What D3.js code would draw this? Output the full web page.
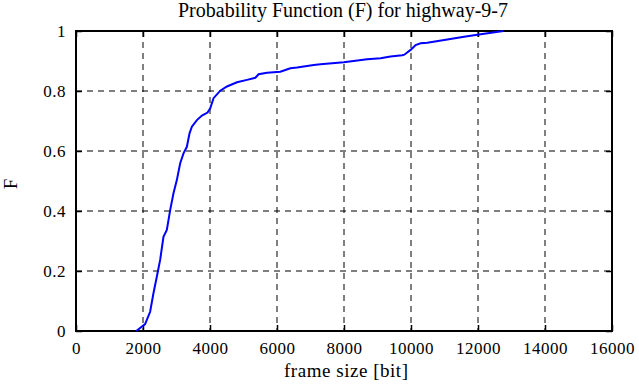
<!DOCTYPE html>
<html><head><meta charset="utf-8">
<script src="https://cdn.jsdelivr.net/npm/d3@7"></script>
<style>body{margin:0;background:#fff}svg{display:block}</style>
</head><body>
<svg id="c" width="639" height="387"></svg>
<script>
const frameSize = [1800,2063,2213,2312,2412,2512,2611,2711,2811,2910,3010,3110,3209,3309,3389,3459,3609,3759,3927,4007,4106,4306,4506,4805,5105,5353,5452,5703,6100,6399,6598,7097,7300,7993,8691,9091,9389,9739,9800,9988,10137,10287,10486,11084,11582,12081,12758];
const probF =     [0,0.023,0.064,0.126,0.181,0.237,0.314,0.337,0.403,0.459,0.503,0.559,0.592,0.614,0.659,0.681,0.703,0.718,0.728,0.742,0.776,0.801,0.815,0.829,0.837,0.844,0.856,0.861,0.864,0.876,0.878,0.887,0.889,0.896,0.906,0.909,0.915,0.919,0.921,0.937,0.953,0.959,0.961,0.972,0.981,0.989,1.0];
const xTicks = [0,2000,4000,6000,8000,10000,12000,14000,16000];
const yTicks = [0,0.2,0.4,0.6,0.8,1];
const title = "Probability Function (F) for highway-9-7";
const xLabel = "frame size [bit]";
const yLabel = "F";

const FONT = '"Liberation Serif","Times New Roman",serif';
const svg = d3.select("#c");
const L=76,R=612,T=31,B=331;
const x = d3.scaleLinear().domain([0,16000]).range([L,R]);
const y = d3.scaleLinear().domain([0,1]).range([B,T]);

// grid
svg.append("g").selectAll("line").data(xTicks.slice(1,-1)).join("line")
  .attr("x1",d=>x(d)).attr("x2",d=>x(d)).attr("y1",T).attr("y2",B)
  .attr("stroke","#000").attr("stroke-width",1).attr("stroke-dasharray","6,5");
svg.append("g").selectAll("line").data(yTicks.slice(1,-1)).join("line")
  .attr("x1",L).attr("x2",R).attr("y1",d=>y(d)).attr("y2",d=>y(d))
  .attr("stroke","#000").attr("stroke-width",1).attr("stroke-dasharray","6,5");

// axes
const xa = svg.append("g").attr("transform",`translate(0,${B})`)
  .call(d3.axisBottom(x).tickValues(xTicks).tickSize(-6).tickFormat(d3.format("d")));
const xt = svg.append("g").attr("transform",`translate(0,${T})`)
  .call(d3.axisTop(x).tickValues(xTicks).tickSize(-6).tickFormat(""));
const ya = svg.append("g").attr("transform",`translate(${L},0)`)
  .call(d3.axisLeft(y).tickValues(yTicks).tickSize(-6).tickFormat(d=>String(d)));
const yr = svg.append("g").attr("transform",`translate(${R},0)`)
  .call(d3.axisRight(y).tickValues(yTicks).tickSize(-6).tickFormat(""));
[xa,xt,ya,yr].forEach(g=>{
  g.select(".domain").remove();
  g.attr("font-family",null).attr("font-size",null);
  g.selectAll(".tick line").attr("stroke","#000").attr("stroke-width",1.5);
  g.selectAll("text").style("font-family",FONT).style("font-size","17px")
   .style("letter-spacing","0.5px").attr("fill","#000");
});
xa.selectAll("text").attr("y",23).attr("dy",null);
ya.selectAll("text").attr("x",-10).attr("dy","0.34em");

svg.append("rect").attr("x",L).attr("y",T).attr("width",R-L).attr("height",B-T)
  .attr("fill","none").attr("stroke","#000").attr("stroke-width",2);

// line
svg.append("path").datum(frameSize.map((v,i)=>[v,probF[i]]))
  .attr("d",d3.line().x(d=>x(d[0])).y(d=>y(d[1])))
  .attr("fill","none").attr("stroke","#0000ff").attr("stroke-width",2);

// labels
svg.append("text").attr("x",(L+R)/2-1).attr("y",17).attr("text-anchor","middle")
  .style("font-family",FONT).style("font-size","20px")
  .attr("textLength",330).attr("lengthAdjust","spacing").text(title);
svg.append("text").attr("x",(L+R)/2+2).attr("y",377).attr("text-anchor","middle")
  .style("font-family",FONT).style("font-size","19px")
  .attr("textLength",124).attr("lengthAdjust","spacing").text(xLabel);
svg.append("text").attr("transform",`translate(17,${(T+B)/2+3}) rotate(-90)`).attr("text-anchor","middle")
  .style("font-family",FONT).style("font-size","19px").text(yLabel);
</script>
</body></html>
